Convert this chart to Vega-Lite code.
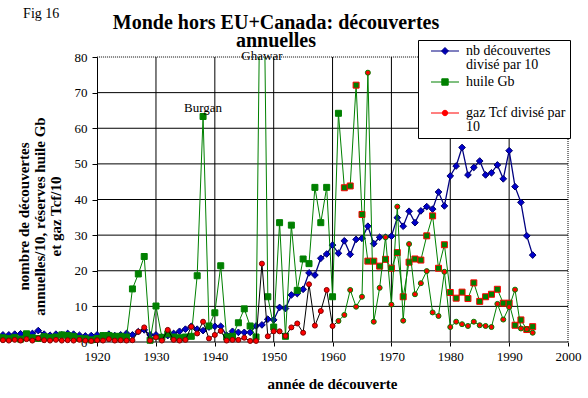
{
"$schema":"https://vega.github.io/schema/vega-lite/v6.json",
"width":568,"height":285,
"autosize":{"type":"none"},
"padding":{"left":0,"top":57,"right":20,"bottom":56},
"background":"white",
"config":{"view":{"stroke":null},"font":"Liberation Serif"},
"title":{"text":["Monde hors EU+Canada: découvertes","annuelles"],"font":"Liberation Serif","fontSize":20,"fontWeight":"bold","color":"black","anchor":"middle","frame":"group","dx":-8,"lineHeight":18,"offset":-44},
"datasets":{
"hgrid":[{"year":1920,"year2":2000,"value":0},{"year":1920,"year2":2000,"value":10},{"year":1920,"year2":2000,"value":20},{"year":1920,"year2":2000,"value":30},{"year":1920,"year2":2000,"value":40},{"year":1920,"year2":2000,"value":50},{"year":1920,"year2":2000,"value":60},{"year":1920,"year2":2000,"value":70}],
"hdot":[{"year":1920,"year2":2000,"value":80}],
"vgrid":[{"year":1930,"value":0,"value2":80},{"year":1940,"value":0,"value2":80},{"year":1950,"value":0,"value2":80},{"year":1960,"value":0,"value2":80},{"year":1970,"value":0,"value2":80},{"year":1980,"value":0,"value2":80},{"year":1990,"value":0,"value2":80}],
"vdot":[{"year":2000,"value":0,"value2":80}],
"burgan":[{"year":1938,"value":63.3,"label":"Burgan"}],
"ghawar":[{"year":1948,"value":80,"label":"Ghawar"}],
"fig":[{"year":1910.5,"value":92.1,"label":"Fig 16"}],
"d":[
{"year":1904,"series":"nb","value":2.0},{"year":1905,"series":"nb","value":2.0},{"year":1906,"series":"nb","value":2.2},{"year":1907,"series":"nb","value":2.3},{"year":1908,"series":"nb","value":1.8},{"year":1909,"series":"nb","value":2.4},{"year":1910,"series":"nb","value":3.2},{"year":1911,"series":"nb","value":2.2},{"year":1912,"series":"nb","value":1.9},{"year":1913,"series":"nb","value":2.2},{"year":1914,"series":"nb","value":2.0},{"year":1915,"series":"nb","value":2.4},{"year":1916,"series":"nb","value":2.2},{"year":1917,"series":"nb","value":1.9},{"year":1918,"series":"nb","value":1.7},{"year":1919,"series":"nb","value":1.8},{"year":1920,"series":"nb","value":2.0},{"year":1921,"series":"nb","value":1.8},{"year":1922,"series":"nb","value":2.2},{"year":1923,"series":"nb","value":1.8},{"year":1924,"series":"nb","value":2.0},{"year":1925,"series":"nb","value":2.4},{"year":1926,"series":"nb","value":2.0},{"year":1927,"series":"nb","value":2.9},{"year":1928,"series":"nb","value":3.4},{"year":1929,"series":"nb","value":2.0},{"year":1930,"series":"nb","value":2.0},{"year":1931,"series":"nb","value":1.4},{"year":1932,"series":"nb","value":1.8},{"year":1933,"series":"nb","value":2.4},{"year":1934,"series":"nb","value":3.0},{"year":1935,"series":"nb","value":3.6},{"year":1936,"series":"nb","value":4.4},{"year":1937,"series":"nb","value":3.6},{"year":1938,"series":"nb","value":3.2},{"year":1939,"series":"nb","value":4.2},{"year":1940,"series":"nb","value":4.4},{"year":1941,"series":"nb","value":4.4},{"year":1942,"series":"nb","value":1.9},{"year":1943,"series":"nb","value":3.0},{"year":1944,"series":"nb","value":2.7},{"year":1945,"series":"nb","value":2.7},{"year":1946,"series":"nb","value":2.7},{"year":1947,"series":"nb","value":4.5},{"year":1948,"series":"nb","value":4.8},{"year":1949,"series":"nb","value":6.4},{"year":1950,"series":"nb","value":6.2},{"year":1951,"series":"nb","value":9.7},{"year":1952,"series":"nb","value":9.4},{"year":1953,"series":"nb","value":13.2},{"year":1954,"series":"nb","value":13.6},{"year":1955,"series":"nb","value":14.8},{"year":1956,"series":"nb","value":19.4},{"year":1957,"series":"nb","value":18.8},{"year":1958,"series":"nb","value":23.5},{"year":1959,"series":"nb","value":24.7},{"year":1960,"series":"nb","value":27.2},{"year":1961,"series":"nb","value":24.9},{"year":1962,"series":"nb","value":28.4},{"year":1963,"series":"nb","value":24.6},{"year":1964,"series":"nb","value":28.8},{"year":1965,"series":"nb","value":29.1},{"year":1966,"series":"nb","value":32.5},{"year":1967,"series":"nb","value":27.6},{"year":1968,"series":"nb","value":29.4},{"year":1969,"series":"nb","value":29.4},{"year":1970,"series":"nb","value":29.7},{"year":1971,"series":"nb","value":34.9},{"year":1972,"series":"nb","value":32.5},{"year":1973,"series":"nb","value":36.7},{"year":1974,"series":"nb","value":33.5},{"year":1975,"series":"nb","value":36.8},{"year":1976,"series":"nb","value":38.0},{"year":1977,"series":"nb","value":37.3},{"year":1978,"series":"nb","value":42.1},{"year":1979,"series":"nb","value":38.2},{"year":1980,"series":"nb","value":46.6},{"year":1981,"series":"nb","value":49.4},{"year":1982,"series":"nb","value":54.6},{"year":1983,"series":"nb","value":46.9},{"year":1984,"series":"nb","value":49.0},{"year":1985,"series":"nb","value":50.8},{"year":1986,"series":"nb","value":46.9},{"year":1987,"series":"nb","value":47.5},{"year":1988,"series":"nb","value":49.7},{"year":1989,"series":"nb","value":45.8},{"year":1990,"series":"nb","value":53.7},{"year":1991,"series":"nb","value":43.6},{"year":1992,"series":"nb","value":39.2},{"year":1993,"series":"nb","value":29.8},{"year":1994,"series":"nb","value":24.4},
{"year":1904,"series":"huile","value":1.2},{"year":1905,"series":"huile","value":1.0},{"year":1906,"series":"huile","value":1.3},{"year":1907,"series":"huile","value":0.8},{"year":1908,"series":"huile","value":2.3},{"year":1909,"series":"huile","value":1.2},{"year":1910,"series":"huile","value":1.0},{"year":1911,"series":"huile","value":1.5},{"year":1912,"series":"huile","value":1.2},{"year":1913,"series":"huile","value":1.4},{"year":1914,"series":"huile","value":2.0},{"year":1915,"series":"huile","value":1.8},{"year":1916,"series":"huile","value":1.6},{"year":1917,"series":"huile","value":1.0},{"year":1918,"series":"huile","value":0.9},{"year":1919,"series":"huile","value":0.6},{"year":1920,"series":"huile","value":1.0},{"year":1921,"series":"huile","value":1.8},{"year":1922,"series":"huile","value":1.8},{"year":1923,"series":"huile","value":1.6},{"year":1924,"series":"huile","value":1.6},{"year":1925,"series":"huile","value":1.4},{"year":1926,"series":"huile","value":14.9},{"year":1927,"series":"huile","value":19.1},{"year":1928,"series":"huile","value":24.0},{"year":1929,"series":"huile","value":0.5},{"year":1930,"series":"huile","value":10.1},{"year":1931,"series":"huile","value":1.3},{"year":1932,"series":"huile","value":2.3},{"year":1933,"series":"huile","value":1.4},{"year":1934,"series":"huile","value":1.2},{"year":1935,"series":"huile","value":1.4},{"year":1936,"series":"huile","value":1.6},{"year":1937,"series":"huile","value":18.6},{"year":1938,"series":"huile","value":63.3},{"year":1939,"series":"huile","value":4.5},{"year":1940,"series":"huile","value":8.2},{"year":1941,"series":"huile","value":21.4},{"year":1942,"series":"huile","value":1.4},{"year":1943,"series":"huile","value":1.6},{"year":1944,"series":"huile","value":5.4},{"year":1945,"series":"huile","value":9.3},{"year":1946,"series":"huile","value":4.5},{"year":1947,"series":"huile","value":1.4},{"year":1948,"series":"huile","value":150},{"year":1949,"series":"huile","value":12.7},{"year":1950,"series":"huile","value":4.2},{"year":1951,"series":"huile","value":33.5},{"year":1952,"series":"huile","value":1.6},{"year":1953,"series":"huile","value":32.8},{"year":1954,"series":"huile","value":14.5},{"year":1955,"series":"huile","value":23.3},{"year":1956,"series":"huile","value":22.0},{"year":1957,"series":"huile","value":43.4},{"year":1958,"series":"huile","value":33.5},{"year":1959,"series":"huile","value":43.4},{"year":1960,"series":"huile","value":12.7},{"year":1961,"series":"huile","value":64.2},{"year":1962,"series":"huile","value":43.3},{"year":1963,"series":"huile","value":43.8},{"year":1964,"series":"huile","value":72.1},{"year":1965,"series":"huile","value":35.8},{"year":1966,"series":"huile","value":22.7},{"year":1967,"series":"huile","value":22.7},{"year":1968,"series":"huile","value":21.3},{"year":1969,"series":"huile","value":23.2},{"year":1970,"series":"huile","value":20.7},{"year":1971,"series":"huile","value":25.1},{"year":1972,"series":"huile","value":12.7},{"year":1973,"series":"huile","value":22.4},{"year":1974,"series":"huile","value":23.3},{"year":1975,"series":"huile","value":23.0},{"year":1976,"series":"huile","value":29.8},{"year":1977,"series":"huile","value":35.4},{"year":1978,"series":"huile","value":20.7},{"year":1979,"series":"huile","value":27.3},{"year":1980,"series":"huile","value":13.9},{"year":1981,"series":"huile","value":12.3},{"year":1982,"series":"huile","value":14.0},{"year":1983,"series":"huile","value":12.2},{"year":1984,"series":"huile","value":16.6},{"year":1985,"series":"huile","value":11.4},{"year":1986,"series":"huile","value":12.7},{"year":1987,"series":"huile","value":13.4},{"year":1988,"series":"huile","value":14.8},{"year":1989,"series":"huile","value":10.9},{"year":1990,"series":"huile","value":10.9},{"year":1991,"series":"huile","value":4.7},{"year":1992,"series":"huile","value":6.2},{"year":1993,"series":"huile","value":3.5},{"year":1994,"series":"huile","value":4.3},
{"year":1904,"series":"gaz","value":0.5},{"year":1905,"series":"gaz","value":0.4},{"year":1906,"series":"gaz","value":0.6},{"year":1907,"series":"gaz","value":0.4},{"year":1908,"series":"gaz","value":0.8},{"year":1909,"series":"gaz","value":0.4},{"year":1910,"series":"gaz","value":1.0},{"year":1911,"series":"gaz","value":0.5},{"year":1912,"series":"gaz","value":0.4},{"year":1913,"series":"gaz","value":0.6},{"year":1914,"series":"gaz","value":0.4},{"year":1915,"series":"gaz","value":0.5},{"year":1916,"series":"gaz","value":0.4},{"year":1917,"series":"gaz","value":0.6},{"year":1918,"series":"gaz","value":0.4},{"year":1919,"series":"gaz","value":0.3},{"year":1920,"series":"gaz","value":0.5},{"year":1921,"series":"gaz","value":0.4},{"year":1922,"series":"gaz","value":0.8},{"year":1923,"series":"gaz","value":0.4},{"year":1924,"series":"gaz","value":0.5},{"year":1925,"series":"gaz","value":0.4},{"year":1926,"series":"gaz","value":0.5},{"year":1927,"series":"gaz","value":2.9},{"year":1928,"series":"gaz","value":4.1},{"year":1929,"series":"gaz","value":0.4},{"year":1930,"series":"gaz","value":1.3},{"year":1931,"series":"gaz","value":0.4},{"year":1932,"series":"gaz","value":3.4},{"year":1933,"series":"gaz","value":0.6},{"year":1934,"series":"gaz","value":0.4},{"year":1935,"series":"gaz","value":0.6},{"year":1936,"series":"gaz","value":4.3},{"year":1937,"series":"gaz","value":2.4},{"year":1938,"series":"gaz","value":5.7},{"year":1939,"series":"gaz","value":1.0},{"year":1940,"series":"gaz","value":2.0},{"year":1941,"series":"gaz","value":3.1},{"year":1942,"series":"gaz","value":0.4},{"year":1943,"series":"gaz","value":0.6},{"year":1944,"series":"gaz","value":0.6},{"year":1945,"series":"gaz","value":1.2},{"year":1946,"series":"gaz","value":0.3},{"year":1947,"series":"gaz","value":0.3},{"year":1948,"series":"gaz","value":22.0},{"year":1949,"series":"gaz","value":1.6},{"year":1950,"series":"gaz","value":3.0},{"year":1951,"series":"gaz","value":3.0},{"year":1952,"series":"gaz","value":1.7},{"year":1953,"series":"gaz","value":4.1},{"year":1954,"series":"gaz","value":5.2},{"year":1955,"series":"gaz","value":2.6},{"year":1956,"series":"gaz","value":16.2},{"year":1957,"series":"gaz","value":4.6},{"year":1958,"series":"gaz","value":8.7},{"year":1959,"series":"gaz","value":14.6},{"year":1960,"series":"gaz","value":4.5},{"year":1961,"series":"gaz","value":5.9},{"year":1962,"series":"gaz","value":7.6},{"year":1963,"series":"gaz","value":14.6},{"year":1964,"series":"gaz","value":9.9},{"year":1965,"series":"gaz","value":12.7},{"year":1966,"series":"gaz","value":75.6},{"year":1967,"series":"gaz","value":5.7},{"year":1968,"series":"gaz","value":15.2},{"year":1969,"series":"gaz","value":29.4},{"year":1970,"series":"gaz","value":10.5},{"year":1971,"series":"gaz","value":38.0},{"year":1972,"series":"gaz","value":6.0},{"year":1973,"series":"gaz","value":27.5},{"year":1974,"series":"gaz","value":13.4},{"year":1975,"series":"gaz","value":16.5},{"year":1976,"series":"gaz","value":19.9},{"year":1977,"series":"gaz","value":8.3},{"year":1978,"series":"gaz","value":7.3},{"year":1979,"series":"gaz","value":19.7},{"year":1980,"series":"gaz","value":4.2},{"year":1981,"series":"gaz","value":5.7},{"year":1982,"series":"gaz","value":5.0},{"year":1983,"series":"gaz","value":4.5},{"year":1984,"series":"gaz","value":5.7},{"year":1985,"series":"gaz","value":4.7},{"year":1986,"series":"gaz","value":4.5},{"year":1987,"series":"gaz","value":4.2},{"year":1988,"series":"gaz","value":10.7},{"year":1989,"series":"gaz","value":6.3},{"year":1990,"series":"gaz","value":9.8},{"year":1991,"series":"gaz","value":14.7},{"year":1992,"series":"gaz","value":3.8},{"year":1993,"series":"gaz","value":3.6},{"year":1994,"series":"gaz","value":2.6}
]},
"encoding":{
"x":{"field":"year","type":"quantitative","scale":{"domain":[1903.5,2000],"nice":false,"zero":false},
 "axis":{"values":[1920,1930,1940,1950,1960,1970,1980,1990,2000],"format":"d","title":"année de découverte","grid":false,"domain":false,"ticks":true,"tickSize":4,"tickColor":"black","labelFont":"Liberation Serif","labelFontSize":13,"labelColor":"black","labelPadding":4,"labelFlush":false,"titleFont":"Liberation Serif","titleFontSize":15,"titleFontWeight":"bold","titleColor":"black","titleX":332,"titleY":41,"titleBaseline":"middle","titleAlign":"center"}},
"y":{"field":"value","type":"quantitative","scale":{"domain":[0,80],"nice":false,"zero":true},
 "axis":{"values":[0,10,20,30,40,50,60,70,80],"title":["nombre de découvertes","annuelles/10, réserves huile Gb","et gaz Tcf/10"],"offset":-97,"grid":false,"domain":true,"domainColor":"black","ticks":true,"tickSize":5,"tickColor":"black","labelFont":"Liberation Serif","labelFontSize":13,"labelColor":"black","labelPadding":5,"titleFont":"Liberation Serif","titleFontSize":15,"titleFontWeight":"bold","titleColor":"black","titleLineHeight":16,"titleAngle":-90,"titleX":-74,"titleY":159,"titleBaseline":"middle","titleAlign":"center"}}
},
"layer":[
{"data":{"name":"hgrid"},"mark":{"type":"rule","color":"black","strokeWidth":1},"encoding":{"x2":{"field":"year2"}}},
{"data":{"name":"hdot"},"mark":{"type":"rule","color":"black","strokeWidth":1,"strokeDash":[1,1]},"encoding":{"x2":{"field":"year2"}}},
{"data":{"name":"vgrid"},"mark":{"type":"rule","color":"black","strokeWidth":1},"encoding":{"y2":{"field":"value2"}}},
{"data":{"name":"vdot"},"mark":{"type":"rule","color":"black","strokeWidth":1,"strokeDash":[1,1]},"encoding":{"y2":{"field":"value2"}}},
{"data":{"name":"d"},"transform":[{"filter":"datum.series == 'nb'"}],"mark":{"type":"line","strokeWidth":1.3},
 "encoding":{"color":{"field":"series","type":"nominal","scale":{"domain":["nb","huile","gaz"],"range":["#000080","#008000","#FF0000"]},
  "legend":{"orient":"none","legendX":418,"legendY":-17,"title":null,"fillColor":"white","strokeColor":"black","padding":4,"rowPadding":3,
   "labelFont":"Liberation Serif","labelFontSize":14,"labelColor":"black","labelLimit":0,"labelOffset":30,"labelBaseline":"top","symbolSize":36,
   "labelExpr":"datum.value == 'nb' ? ['nb découvertes', 'divisé par 10'] : datum.value == 'huile' ? ['huile Gb', ' '] : ['gaz Tcf divisé par', '10']",
   "encode":{
    "symbols":{"update":{
     "shape":{"signal":"datum.value == 'nb' ? 'M0.667,0H10M5.333,-1.167L6.5,0L5.333,1.167L4.167,0Z' : datum.value == 'huile' ? 'M0.667,0H10M4.267,-1.067H6.4V1.067H4.267Z' : 'M0.667,0H10M4.433,0A0.9,0.9,0,1,0,6.233,0A0.9,0.9,0,1,0,4.433,0Z'"},
     "fill":{"signal":"datum.value == 'nb' ? '#0000CC' : datum.value == 'huile' ? '#008000' : '#FF0000'"},
     "stroke":{"signal":"datum.value == 'nb' ? '#000080' : datum.value == 'huile' ? '#008000' : '#FF0000'"},
     "strokeWidth":{"value":1},"opacity":{"value":1},"fillOpacity":{"value":1},"strokeOpacity":{"value":1}}},
    "labels":{"update":{"dy":{"value":-7},"lineHeight":{"value":14}}}
   }}}}},
{"data":{"name":"d"},"transform":[{"filter":"datum.series == 'nb'"}],"mark":{"type":"point","shape":"diamond","filled":true,"fill":"#0000CC","stroke":"#000066","strokeWidth":1,"size":45,"opacity":1}},
{"data":{"name":"d"},"transform":[{"filter":"datum.series == 'huile'"}],"mark":{"type":"line","color":"#008000","strokeWidth":1,"clip":true}},
{"data":{"name":"d"},"transform":[{"filter":"datum.series == 'huile' && datum.year <= 1961 && datum.value <= 80"}],"mark":{"type":"point","shape":"square","filled":true,"fill":"#008000","stroke":"#008000","strokeWidth":1,"size":36,"opacity":1}},
{"data":{"name":"d"},"transform":[{"filter":"datum.series == 'huile' && datum.year >= 1962"}],"mark":{"type":"point","shape":"square","filled":true,"fill":"#008000","stroke":"#FF0000","strokeWidth":1,"size":36,"opacity":1}},
{"data":{"name":"d"},"transform":[{"filter":"datum.series == 'gaz' && datum.year <= 1961"}],"mark":{"type":"line","color":"black","strokeWidth":1}},
{"data":{"name":"d"},"transform":[{"filter":"datum.series == 'gaz' && datum.year >= 1961"}],"mark":{"type":"line","color":"#008000","strokeWidth":1}},
{"data":{"name":"d"},"transform":[{"filter":"datum.series == 'gaz' && datum.year <= 1960"}],"mark":{"type":"point","shape":"circle","filled":true,"fill":"#FF0000","stroke":"#800000","strokeWidth":1,"size":25,"opacity":1}},
{"data":{"name":"d"},"transform":[{"filter":"datum.series == 'gaz' && datum.year >= 1961"}],"mark":{"type":"point","shape":"circle","filled":true,"fill":"#FF0000","stroke":"#008000","strokeWidth":1,"size":25,"opacity":1}},
{"data":{"name":"burgan"},"mark":{"type":"text","font":"Liberation Serif","fontSize":13,"color":"black","baseline":"middle","align":"center","dy":-8.5},"encoding":{"text":{"field":"label"}}},
{"data":{"name":"ghawar"},"mark":{"type":"text","font":"Liberation Serif","fontSize":13,"color":"black","baseline":"middle","align":"center","dy":-1},"encoding":{"text":{"field":"label"}}},
{"data":{"name":"fig"},"mark":{"type":"text","font":"Liberation Serif","fontSize":14,"color":"black","baseline":"middle","align":"center"},"encoding":{"text":{"field":"label"}}}
]
}
